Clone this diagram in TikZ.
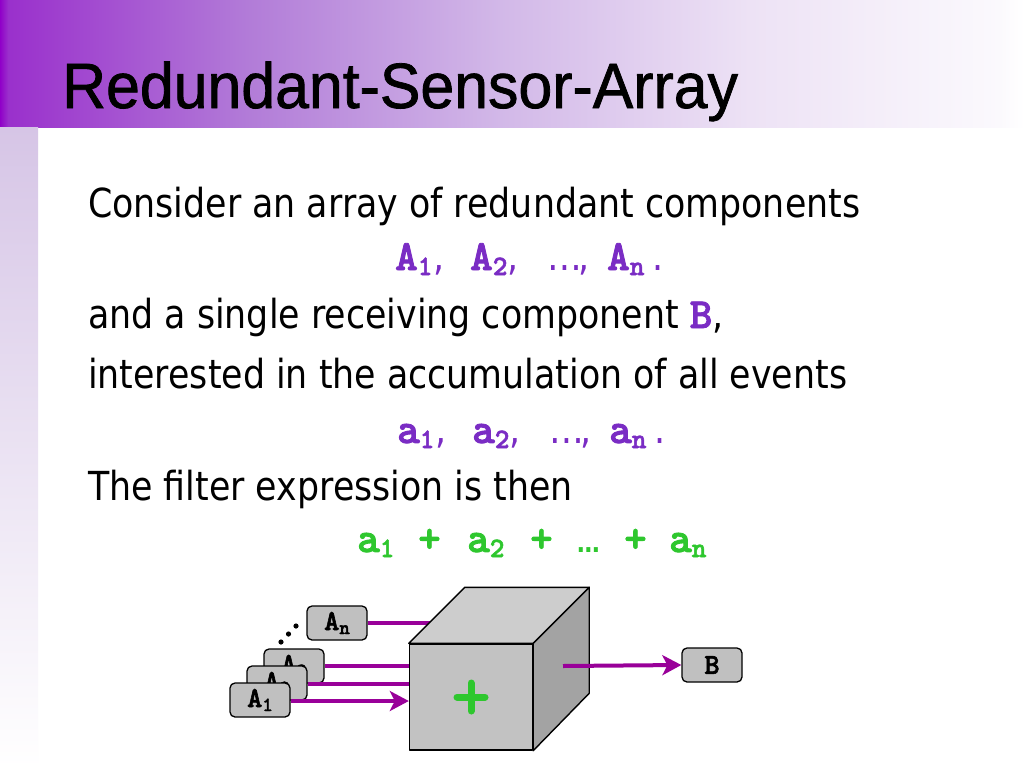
\documentclass[tikz,border=0pt]{standalone}
\usepackage{fontspec}
\setmainfont{DejaVu Sans}[FakeStretch=0.87]
\newfontfamily\titlefont{Liberation Sans}[FakeStretch=0.95,FakeBold=1.2]
\newfontfamily\cour{lmmonolt10-bold.otf}[FakeBold=2]
\usetikzlibrary{arrows.meta}
\definecolor{vio}{HTML}{7A2CC4}
\definecolor{grn}{HTML}{2EC72E}
\definecolor{arrc}{HTML}{990099}
\definecolor{boxg}{HTML}{C0C0C0}
\definecolor{frontg}{HTML}{C2C2C2}
\definecolor{topg}{HTML}{CDCDCD}
\definecolor{sideg}{HTML}{A3A3A3}
\definecolor{bandA}{HTML}{9000C8}
\definecolor{bandB}{HTML}{9A30CC}
\definecolor{bandC}{HTML}{B27CD8}
\definecolor{bandD}{HTML}{D2B8E8}
\definecolor{bandE}{HTML}{EDE2F5}
\definecolor{bandF}{HTML}{FBF9FD}
\definecolor{stripc}{HTML}{D6C5E6}
\pgfdeclarehorizontalshading{titleband}{100bp}{color(0bp)=(bandA); color(25bp)=(bandA); color(25.4bp)=(bandB); color(37.2bp)=(bandC); color(49.4bp)=(bandD); color(61.6bp)=(bandE); color(73.8bp)=(bandF); color(75bp)=(white); color(100bp)=(white)}
\newcommand\mono[1]{{\cour\fontsize{43}{43}\selectfont #1}}
\newcommand\msubs[1]{\raisebox{-5pt}{\cour\fontsize{28}{28}\selectfont #1}}
\newcommand\bsubs[1]{\raisebox{-4pt}{\cour\fontsize{20}{20}\selectfont #1}}
\newcommand\seg[2]{\makebox[#1pt][l]{#2}}
\begin{document}
\begin{tikzpicture}[x=1pt,y=-1pt,
  comp/.style={draw=black, line width=1.3pt, fill=boxg, rounded corners=5pt,
    minimum width=60pt, minimum height=34pt, inner sep=0pt,
    font=\cour\fontsize{29}{29}\selectfont},
  flow/.style={draw=arrc, line width=4pt, -{Stealth[length=19pt,width=20pt,inset=5pt]}},
  line/.style={draw=arrc, line width=4pt},
  body/.style={anchor=base west, inner sep=0pt, font=\fontsize{40}{40}\selectfont},
  face/.style={draw=black, line width=1.4pt, line join=round}]
\useasboundingbox (0,0) rectangle (1024,768);
\fill[white] (0,0) rectangle (1024,768);
% title band and side strip
\shade[shading=titleband] (0,0) rectangle (1024,127);
\shade[top color=stripc, bottom color=white] (0,127) rectangle (38,768);
\node[anchor=base west, inner sep=0pt, font=\titlefont\fontsize{64}{64}\selectfont] (title) at (62,108) {Redundant-Sensor-Array};
% body text
\node[body] (l1) at (88,217) {Consider an array of redundant components};
\node[body, text=vio] (l2) at (395,270) {\seg{38}{\mono{A}\msubs{1}}\seg{37}{,}\seg{37}{\mono{A}\msubs{2}}\seg{40}{,}\seg{31}{…}\seg{29}{,}\seg{45}{\mono{A}\msubs{n}}.};
\node[body] (l3) at (88,328) {and a single receiving component \textcolor{vio}{\mono{B}},};
\node[body] (l4) at (88,388) {interested in the accumulation of all events};
\node[body, text=vio] (l5) at (397,443) {\seg{38}{\mono{a}\msubs{1}}\seg{37}{,}\seg{37}{\mono{a}\msubs{2}}\seg{40}{,}\seg{31}{…}\seg{29}{,}\seg{45}{\mono{a}\msubs{n}}.};
\node[body] (l6) at (88,500) {The filter expression is then};
\node[body, text=grn] (l7) at (357,552) {\seg{61}{\mono{a}\msubs{1}}\seg{49}{\mono{+}}\seg{63}{\mono{a}\msubs{2}}\seg{47}{\mono{+}}\seg{47}{{\bfseries\fontsize{26}{26}\selectfont …}}\seg{45}{\mono{+}}\mono{a}\msubs{n}};
% components and their connectors, back to front
\node[comp] (An) at (337,623) {A\bsubs{n}};
\fill (281,642) circle (2.6) (288.5,634) circle (2.6) (296,626) circle (2.6);
\coordinate (sumW) at (410,697);
\draw[line] (An.east) -- (440,623);
\node[comp] (A3) at (294,666) {A\bsubs{3}};
\draw[flow] (A3.east) -- ([xshift=19]A3 -| sumW);
\node[comp] (A2) at (277,683) {A\bsubs{2}};
\draw[flow] ([yshift=-1]A2.east) -- ([xshift=19,yshift=-1]A2 -| sumW);
\node[comp] (A1) at (260,700) {A\bsubs{1}};
% the cube: front face as a node
\node[face, fill=frontg, minimum width=123pt, minimum height=106pt, inner sep=0pt] (sum) at (471,697) {};
\draw[flow] ([yshift=-1]A1.east) -- ([yshift=-1]A1 -| sum.west);
\filldraw[face, fill=topg] (sum.north west) -- ++(56,-56) -- ([shift={(56,-56)}]sum.north east) -- (sum.north east) -- cycle;
\filldraw[face, fill=sideg] (sum.north east) -- ++(56,-56) -- ++(0,106) -- (sum.south east) -- cycle;
\draw[draw=grn, line width=7pt, line cap=round] ([yshift=-14]sum.center) -- ([yshift=14]sum.center) ([xshift=-14]sum.center) -- ([xshift=14]sum.center);
% output
\node[comp] (B) at (712,665) {B};
\coordinate (outp) at (563,666);
\draw[flow] (outp) -- (B.west);
\end{tikzpicture}
\end{document}
